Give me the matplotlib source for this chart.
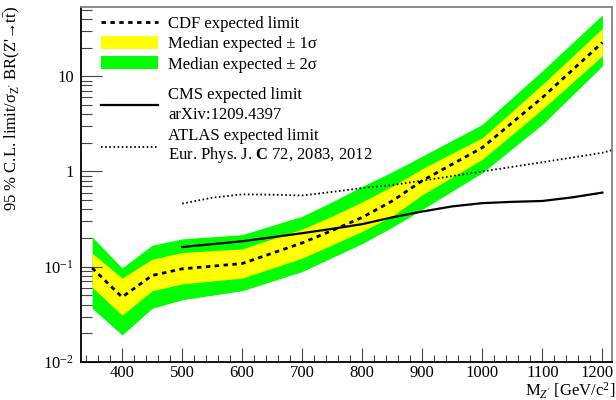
import math

import matplotlib
matplotlib.use("Agg")
import matplotlib.pyplot as plt
from matplotlib.lines import Line2D
from matplotlib.patches import Patch
from matplotlib.ticker import FixedLocator, FuncFormatter, LogLocator, NullFormatter
from matplotlib.transforms import ScaledTranslation

plt.rcParams["font.family"] = ["Liberation Serif", "DejaVu Serif"]
plt.rcParams["mathtext.fontset"] = "custom"
plt.rcParams["mathtext.rm"] = "Liberation Serif"
plt.rcParams["mathtext.it"] = "Liberation Serif:italic"
plt.rcParams["mathtext.bf"] = "Liberation Serif:bold"

# expected limit bands (CDF)
mass = [350, 400, 450, 500, 600, 700, 750, 800, 850, 900, 1000, 1100, 1200]
median = [0.097, 0.048, 0.081, 0.095, 0.108, 0.178, 0.24, 0.33, 0.49, 0.80, 1.78, 5.97, 22.6]
plus1 = [0.139, 0.076, 0.12, 0.141, 0.154, 0.249, 0.34, 0.48, 0.70, 1.07, 2.26, 8.2, 31.8]
minus1 = [0.061, 0.031, 0.056, 0.066, 0.076, 0.123, 0.17, 0.235, 0.34, 0.57, 1.34, 4.5, 16.4]
plus2 = [0.206, 0.097, 0.168, 0.196, 0.217, 0.339, 0.48, 0.70, 0.99, 1.45, 3.12, 11.4, 44.0]
minus2 = [0.0367, 0.0192, 0.0367, 0.045, 0.056, 0.089, 0.125, 0.175, 0.26, 0.40, 0.97, 3.12, 12.8]

# CMS expected limit
cms_mass = [500, 600, 700, 750, 800, 850, 900, 950, 1000, 1050, 1100, 1150, 1200]
cms_limit = [0.161, 0.185, 0.225, 0.25, 0.28, 0.33, 0.38, 0.43, 0.465, 0.48, 0.49, 0.535, 0.60]

# ATLAS expected limit
atlas_mass = [500, 550, 600, 650, 700, 750, 800, 850, 900, 1000, 1100, 1200, 1220]
atlas_limit = [0.46, 0.53, 0.575, 0.57, 0.56, 0.61, 0.67, 0.72, 0.80, 1.0, 1.25, 1.57, 1.7]

x_ticks = [400, 500, 600, 700, 800, 900, 1000, 1100, 1200]

fig = plt.figure(figsize=(6.16, 4.0), dpi=100)
ax = fig.add_axes([0.131, 0.095, 0.8625, 0.887])

ax.fill_between(mass, minus2, plus2, color="#00ff00", lw=0)
ax.fill_between(mass, minus1, plus1, color="#ffff00", lw=0)
ax.plot(mass, median, color="black", lw=2, ls=(0, (1.6, 1.6)))
ax.plot(cms_mass, cms_limit, color="black", lw=1.6)
ax.plot(atlas_mass, atlas_limit, color="black", lw=1.3, ls=(0, (0.9, 1.4)))

ax.set_yscale("log")
ax.set_xlim(331, 1216)
ax.set_ylim(0.01, 53)

ax.xaxis.set_major_locator(FixedLocator(x_ticks))
ax.xaxis.set_minor_locator(FixedLocator(list(range(340, 1220, 20))))
ax.yaxis.set_major_locator(FixedLocator([0.01, 0.1, 1, 10]))
ax.yaxis.set_minor_locator(LogLocator(base=10, subs=range(2, 10)))
ax.yaxis.set_minor_formatter(NullFormatter())


def ylab(v, pos):
    if v == 1:
        return "1"
    if v == 10:
        return "10"
    return r"$\mathrm{10^{%d}}$" % int(round(math.log10(v)))


ax.yaxis.set_major_formatter(FuncFormatter(ylab))
ax.tick_params(which="both", direction="in", top=False, right=False,
               labelsize=12, color="#444444", width=0.8)
ax.tick_params(axis="x", which="major", length=10, pad=2)
ax.tick_params(axis="x", which="minor", length=5)
ax.tick_params(axis="y", which="major", length=15, pad=5)
ax.tick_params(axis="y", which="minor", length=8)

# nudge the last x label so it stays inside the canvas
last = ax.xaxis.get_major_ticks()[-1].label1
last.set_transform(last.get_transform() + ScaledTranslation(-4 / 72, 0, fig.dpi_scale_trans))

for s in ["left", "bottom"]:
    ax.spines[s].set_color("black")
    ax.spines[s].set_linewidth(1.3)
for s in ["top", "right"]:
    ax.spines[s].set_color("#808080")
    ax.spines[s].set_linewidth(1.3)

ax.set_ylabel("95 % C.L. limit/$\\mathrm{\\sigma_{Z'}}$ BR(Z'\u2192t$\\bar{\\mathrm{t}}$)",
              fontsize=12, loc="top")
ax.yaxis.set_label_coords(-0.108, 1.003)
ax.set_xlabel(r"M$_{Z'}$ [GeV/c$^{2}$]", fontsize=12, loc="right")
ax.xaxis.set_label_coords(1.007, -0.053)

h1 = [Line2D([], [], color="black", lw=2, ls=(0, (1.6, 1.6))),
      Patch(facecolor="#ffff00", lw=0),
      Patch(facecolor="#00ff00", lw=0)]
l1 = ["CDF expected limit", "Median expected \u00b1 1\u03c3", "Median expected \u00b1 2\u03c3"]
leg1 = ax.legend(h1, l1, loc="upper left", bbox_to_anchor=(0.039, 0.977), frameon=False,
                 fontsize=12, handlelength=3.4, handleheight=0.85, handletextpad=0.6,
                 labelspacing=0.24, borderpad=0, borderaxespad=0)
ax.add_artist(leg1)

h2 = [Line2D([], [], color="black", lw=1.6),
      Line2D([], [], color="black", lw=1.3, ls=(0, (0.9, 1.4)))]
l2 = ["CMS expected limit\narXiv:1209.4397",
      "ATLAS expected limit\nEur. Phys. J. $\\mathbf{C}$ 72, 2083, 2012"]
leg2 = ax.legend(h2, l2, loc="upper left", bbox_to_anchor=(0.039, 0.775), frameon=False,
                 fontsize=12, handlelength=3.4, handletextpad=0.6, labelspacing=0.3,
                 borderpad=0, borderaxespad=0)
leg2.get_texts()[0].set_linespacing(1.33)
leg2.get_texts()[1].set_linespacing(1.08)

fig.savefig("out.png", dpi=100)
